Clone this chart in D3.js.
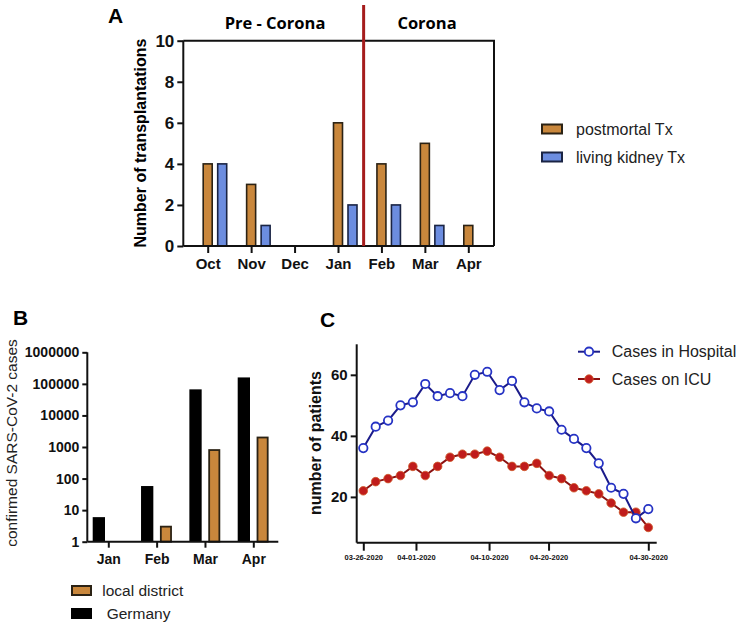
<!DOCTYPE html>
<html><head><meta charset="utf-8">
<script src="https://cdn.jsdelivr.net/npm/d3@7"></script>
<style>
body{margin:0;background:#fff;}
svg{display:block;font-family:"Liberation Sans",Arial,sans-serif;}
</style></head>
<body>
<svg id="c" width="738" height="626"></svg>
<script>
// ---- Panel A data ----
const monthsA = ["Oct","Nov","Dec","Jan","Feb","Mar","Apr"];
const postmortal = [4,3,0,6,4,5,1];
const living = [4,1,0,2,2,1,0];
const ticksA = [0,2,4,6,8,10];
const legendA = ["postmortal Tx","living kidney Tx"];
const periodLabels = ["Pre - Corona","Corona"];

// ---- Panel B data ----
const monthsB = ["Jan","Feb","Mar","Apr"];
const germany = [6,58,67000,160000];
const localDistrict = [null,3,800,2000];
const ticksB = [1,10,100,1000,10000,100000,1000000];
const legendB = ["local district","Germany"];

// ---- Panel C data ----
const hospital = [36,43,45,50,51,57,53,54,53,60,61,55,58,51,49,48,42,39,36,31,23,21,13,16];
const icu = [22,25,26,27,30,27,30,33,34,34,35,33,30,30,31,27,26,23,22,21,18,15,15,10];
const dateTickPos = [0,4.25,10.15,14.95,23];
const dateTickLabels = ["03-26-2020","04-01-2020","04-10-2020","04-20-2020","04-30-2020"];
const ticksC = [20,40,60];
const legendC = ["Cases in Hospital","Cases on ICU"];

const svg = d3.select("#c");
const ORANGE = "#c9873c", BLUE = "#6c8de0", OUT_O = "#2b2214", OUT_B = "#1a2444";

// ================= PANEL A =================
{
  const L = 183.3, R = 494, T = 40.7, B = 246;
  const x = d3.scalePoint().domain(monthsA).range([207.7, 468.3]);
  const y = d3.scaleLinear().domain([0,10]).range([B, T]);
  const g = svg.append("g");
  const bw = 9;
  g.selectAll(".po").data(monthsA.map((m,i)=>({m,v:postmortal[i]})).filter(d=>d.v>0))
    .enter().append("rect")
    .attr("x", d=>x(d.m)-bw/2).attr("width", bw)
    .attr("y", d=>y(d.v)).attr("height", d=>B-y(d.v))
    .attr("fill", ORANGE).attr("stroke", OUT_O).attr("stroke-width", 1.6);
  g.selectAll(".li").data(monthsA.map((m,i)=>({m,v:living[i]})).filter(d=>d.v>0))
    .enter().append("rect")
    .attr("x", d=>x(d.m)+14.5-bw/2).attr("width", bw)
    .attr("y", d=>y(d.v)).attr("height", d=>B-y(d.v))
    .attr("fill", BLUE).attr("stroke", OUT_B).attr("stroke-width", 1.6);
  // frame top/right
  g.append("path").attr("d", `M${L},${T}H${R}V${B}`).attr("fill","none").attr("stroke","#111").attr("stroke-width",2);
  const ya = g.append("g").attr("transform",`translate(${L},0)`)
    .call(d3.axisLeft(y).tickValues(ticksA).tickSize(6).tickPadding(3));
  const xa = g.append("g").attr("transform",`translate(0,${B})`)
    .call(d3.axisBottom(x).tickSize(7).tickPadding(5));
  xa.select(".domain").attr("d", `M${L},0H${R}`);
  ya.select(".domain").attr("d", `M0,${B}V${T}`);
  [ya,xa].forEach(a=>{
    a.selectAll("path,line").attr("stroke","#111").attr("stroke-width",2);
    a.selectAll("text").attr("fill","#111").attr("font-weight","bold");
  });
  ya.selectAll("text").attr("font-size",17);
  xa.selectAll("text").attr("font-size",15);
  // red divider
  const step = x.step();
  g.append("line").attr("x1", x("Jan")+step*0.59).attr("x2", x("Jan")+step*0.59)
    .attr("y1",5).attr("y2",B).attr("stroke","#a51c1c").attr("stroke-width",3);
  g.append("text").attr("x",275).attr("y",29).attr("text-anchor","middle")
    .attr("font-family","'Open Sans',sans-serif").attr("font-weight","bold").attr("font-size",16.5).text(periodLabels[0]);
  g.append("text").attr("x",427).attr("y",29).attr("text-anchor","middle")
    .attr("font-family","'Open Sans',sans-serif").attr("font-weight","bold").attr("font-size",16.5).text(periodLabels[1]);
  g.append("text").attr("transform","translate(146,143) rotate(-90)").attr("text-anchor","middle")
    .attr("font-weight","bold").attr("font-size",16).text("Number of transplantations");
  g.append("text").attr("x",108).attr("y",23).attr("font-weight","bold").attr("font-size",21).text("A");
  // legend
  const lg = g.append("g");
  legendA.forEach((t,i)=>{
    const yy = 129 + i*28;
    lg.append("rect").attr("x",542).attr("y",yy-4.5).attr("width",20).attr("height",9)
      .attr("fill", i===0?ORANGE:BLUE).attr("stroke", i===0?OUT_O:OUT_B).attr("stroke-width",2);
    lg.append("text").attr("x",576).attr("y",yy+5.5).attr("font-size",16).attr("fill","#222").text(t);
  });
}

// ================= PANEL B =================
{
  const L = 87.3, R = 278.3, T = 352.3, B = 541.7;
  const x = d3.scalePoint().domain(monthsB).range([108.3, 253.3]);
  const y = d3.scaleLog().domain([1,1e6]).range([B, T]);
  const g = svg.append("g");
  g.selectAll(".ge").data(monthsB.map((m,i)=>({m,v:germany[i]})))
    .enter().append("rect")
    .attr("x", d=>x(d.m)-15.6).attr("width", 12.3)
    .attr("y", d=>y(d.v)).attr("height", d=>B-y(d.v)).attr("fill","#000");
  g.selectAll(".lo").data(monthsB.map((m,i)=>({m,v:localDistrict[i]})).filter(d=>d.v))
    .enter().append("rect")
    .attr("x", d=>x(d.m)+4.2).attr("width", 10.2)
    .attr("y", d=>y(d.v)).attr("height", d=>B-y(d.v))
    .attr("fill", ORANGE).attr("stroke", OUT_O).attr("stroke-width",1.8);
  const ya = g.append("g").attr("transform",`translate(${L},0)`)
    .call(d3.axisLeft(y).tickValues(ticksB).tickFormat(d3.format("d")).tickSize(5).tickPadding(3));
  const xa = g.append("g").attr("transform",`translate(0,${B})`)
    .call(d3.axisBottom(x).tickSize(6).tickPadding(6));
  xa.select(".domain").attr("d", `M${L},0H${R}`);
  ya.select(".domain").attr("d", `M0,${B}V${T}`);
  [ya,xa].forEach(a=>{
    a.selectAll("path,line").attr("stroke","#111").attr("stroke-width",2);
    a.selectAll("text").attr("fill","#111").attr("font-weight","bold").attr("font-size",14);
  });
  g.append("text").attr("transform","translate(17,443) rotate(-90)").attr("text-anchor","middle")
    .attr("font-size",15.5).attr("fill","#222").text("confirmed SARS-CoV-2 cases");
  g.append("text").attr("x",13).attr("y",325).attr("font-weight","bold").attr("font-size",21).text("B");
  legendB.forEach((t,i)=>{
    const yy = 590.5 + i*23;
    g.append("rect").attr("x",72).attr("y",yy-4.5).attr("width",19).attr("height",9)
      .attr("fill", i===0?ORANGE:"#000").attr("stroke", i===0?OUT_O:"#000").attr("stroke-width",2);
    g.append("text").attr("x", i===0?102.3:106.7).attr("y",yy+5.5).attr("font-size",15.5).attr("fill","#222").text(t);
  });
}

// ================= PANEL C =================
{
  const L = 356.7, R = 656.7, T = 344.3, B = 542.7;
  const x = d3.scaleLinear().domain([0,23]).range([363.3, 648.3]);
  const y = d3.scaleLinear().domain([5,70]).range([B, T]);
  const g = svg.append("g");
  const ya = g.append("g").attr("transform",`translate(${L},0)`)
    .call(d3.axisLeft(y).tickValues(ticksC).tickSize(6).tickPadding(3));
  const xa = g.append("g").attr("transform",`translate(0,${B})`)
    .call(d3.axisBottom(x).tickValues(dateTickPos).tickFormat((d,i)=>dateTickLabels[i]).tickSize(8).tickPadding(4));
  xa.select(".domain").attr("d", `M${L},0H${R}`);
  ya.select(".domain").attr("d", `M0,${B}V${T}`);
  [ya,xa].forEach(a=>{
    a.selectAll("path,line").attr("stroke","#111").attr("stroke-width",2);
    a.selectAll("text").attr("fill","#111").attr("font-weight","bold");
  });
  ya.selectAll("text").attr("font-size",15);
  xa.selectAll("text").attr("font-size",7.5);
  const line = d3.line().x((d,i)=>x(i)).y(d=>y(d));
  g.append("path").datum(icu).attr("d",line).attr("fill","none").attr("stroke","#8c1212").attr("stroke-width",2);
  g.selectAll(".icu").data(icu).enter().append("circle")
    .attr("cx",(d,i)=>x(i)).attr("cy",d=>y(d)).attr("r",4.3)
    .attr("fill","#c01c1c").attr("stroke","#cf5a2a").attr("stroke-width",0.8);
  g.append("path").datum(hospital).attr("d",line).attr("fill","none").attr("stroke","#1b1b8a").attr("stroke-width",2);
  g.selectAll(".hos").data(hospital).enter().append("circle")
    .attr("cx",(d,i)=>x(i)).attr("cy",d=>y(d)).attr("r",4.2)
    .attr("fill","#fff").attr("stroke","#2633c4").attr("stroke-width",1.8);
  g.append("text").attr("transform","translate(321,443) rotate(-90)").attr("text-anchor","middle")
    .attr("font-weight","bold").attr("font-size",16).attr("fill","#111").text("number of patients");
  g.append("text").attr("x",320).attr("y",327).attr("font-weight","bold").attr("font-size",21).text("C");
  legendC.forEach((t,i)=>{
    const yy = 351.7 + i*27.3;
    g.append("line").attr("x1",578).attr("x2",600).attr("y1",yy).attr("y2",yy)
      .attr("stroke", i===0?"#1b1b8a":"#8c1212").attr("stroke-width",2);
    g.append("circle").attr("cx",589).attr("cy",yy).attr("r",4.2)
      .attr("fill", i===0?"#fff":"#c01c1c").attr("stroke", i===0?"#2633c4":"#cf5a2a").attr("stroke-width", i===0?1.8:0.8);
    g.append("text").attr("x",611.7).attr("y",yy+5.5).attr("font-size",16).attr("fill","#222").text(t);
  });
}
</script>
</body></html>
